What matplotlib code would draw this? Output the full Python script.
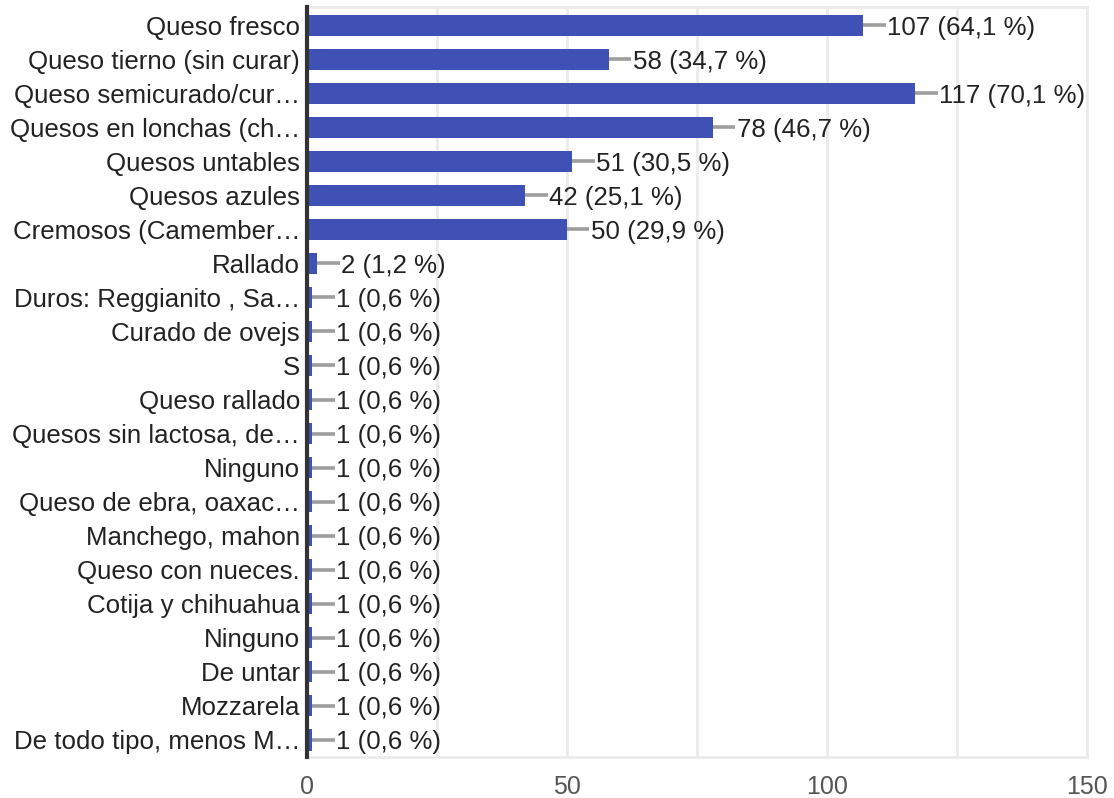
import matplotlib.pyplot as plt

plt.rcParams['font.family'] = ['Liberation Sans', 'DejaVu Sans']

# respuestas por tipo de queso (167 encuestados)
categories = [
  'Queso fresco', 'Queso tierno (sin curar)', 'Queso semicurado/cur…',
  'Quesos en lonchas (ch…', 'Quesos untables', 'Quesos azules',
  'Cremosos (Camember…', 'Rallado', 'Duros: Reggianito , Sa…',
  'Curado de ovejs', 'S', 'Queso rallado', 'Quesos sin lactosa, de…',
  'Ninguno', 'Queso de ebra, oaxac…', 'Manchego, mahon',
  'Queso con nueces.', 'Cotija y chihuahua', 'Ninguno', 'De untar',
  'Mozzarela', 'De todo tipo, menos M…',
]
counts = [107, 58, 117, 78, 51, 42, 50, 2, 1, 1, 1, 1, 1, 1, 1, 1, 1, 1, 1, 1, 1, 1]
respondents = 167
x_ticks = [0, 50, 100, 150]

BAR = '#3f51b5'
GRID = '#ebebeb'
TEXT = '#222222'

fig = plt.figure(figsize=(11.14, 7.98), dpi=100)
ax = fig.add_axes([0.2756, 0.0514, 0.7002, 0.9398])

rows = list(range(len(categories)))
ax.barh(rows, counts, height=0.62, color=BAR, zorder=3)

for y, v in zip(rows, counts):
  pct = f'{v / respondents * 100:.1f}'.replace('.', ',')
  ax.plot([v, v + 4.3], [y, y], color='#9e9e9e', lw=2.6, solid_capstyle='butt', zorder=3)
  ax.text(v + 4.6, y, f'{v} ({pct} %)', va='center_baseline', ha='left',
          fontsize=18.6, color=TEXT, zorder=4)

ax.set_xlim(0, 150)
ax.set_ylim(len(categories) - 0.5, -0.53)
ax.set_xticks(x_ticks)
ax.set_xticks([25, 75, 125], minor=True)
ax.set_yticks(rows)
ax.set_yticklabels(categories)
ax.tick_params(axis='y', length=0, pad=5, labelsize=18.6, labelcolor=TEXT)
ax.tick_params(axis='x', which='both', length=0, pad=13, labelsize=18, labelcolor='#555555')

ax.grid(True, axis='x', which='both', color=GRID, lw=2, zorder=0)
for side in ['top', 'bottom', 'right']:
  ax.spines[side].set_color(GRID)
  ax.spines[side].set_linewidth(2)
ax.spines['left'].set_color('#333333')
ax.spines['left'].set_linewidth(3)
ax.spines['left'].set_zorder(5)

fig.savefig('out.png', dpi=100)
